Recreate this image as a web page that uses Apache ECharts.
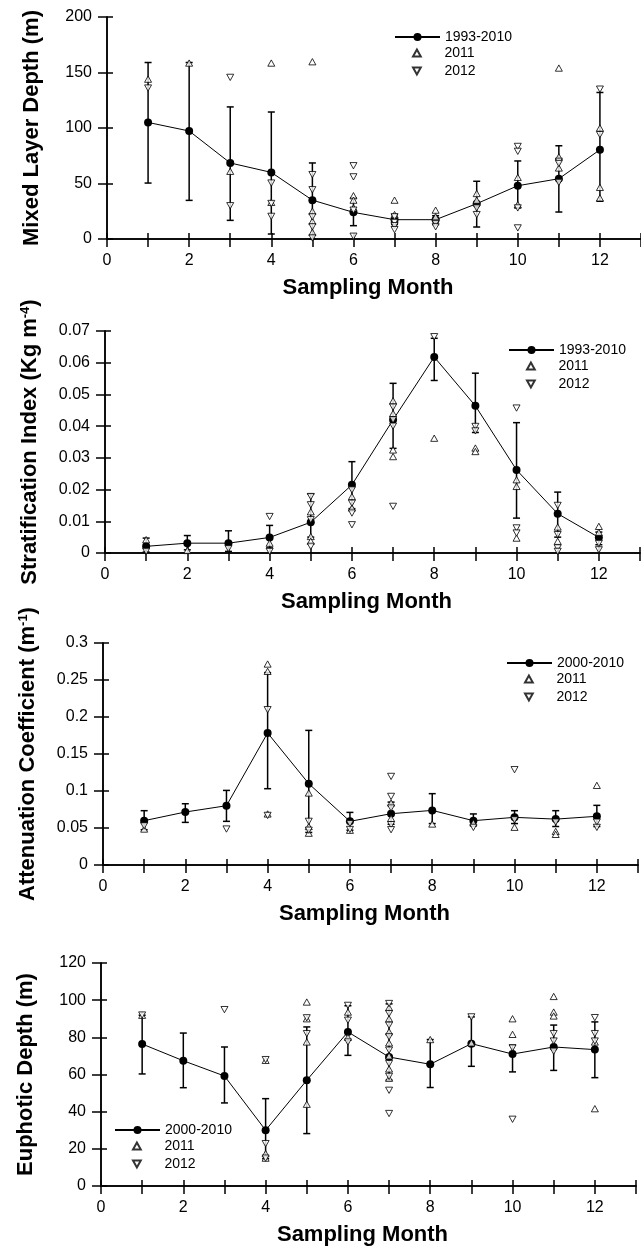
<!DOCTYPE html>
<html>
<head>
<meta charset="utf-8">
<script src="https://cdn.jsdelivr.net/npm/echarts/dist/echarts.min.js"></script>
<style>
html,body{margin:0;padding:0;background:#fff;}
#c{width:641px;height:1249px;}
</style>
</head>
<body>
<div id="c"></div>
<script>
// ---------- shared ----------
const months = [1,2,3,4,5,6,7,8,9,10,11,12];
const monthTickLabels = [0,2,4,6,8,10,12];
const monthMax = 13;

// ---------- Panel 1: Mixed Layer Depth ----------
const mldTicks = [0,50,100,150,200];
const mldMean = [105,97.3,68.5,60,35,24,17.4,17.4,31.8,48,54.3,80.4];
const mldLow  = [50.4,34.8,16.8,4.5,0,12,13,13,10.8,28,24.3,34];
const mldHigh = [159,159,119,114.4,68.5,37,22,21,52,70.3,84,132];
const mld2011 = [[1,144],[2,158.5],[3,61],[4,158.5],[4,33],[5,159.7],[5,25],[5,16],[5,6],[6,39],[6,35],[6,28],[7,35],[7,22],[7,17],[8,26],[8,20],[9,41],[9,35],[10,55.5],[10,31],[11,154],[11,74],[11,64],[12,100],[12,46.5],[12,37]];
const mld2012 = [[1,136],[3,145.6],[3,30],[4,50.4],[4,32],[4,20.4],[5,58],[5,44.4],[5,20],[5,11],[5,1],[6,66],[6,56],[6,26],[6,2.5],[7,20],[7,15],[7,12],[7,8.4],[8,14],[8,11],[9,28],[9,22],[10,83.4],[10,79],[10,28],[10,10],[11,70],[11,68],[11,51],[12,135],[12,94]];

// ---------- Panel 2: Stratification Index ----------
const siTicks = [0,0.01,0.02,0.03,0.04,0.05,0.06,0.07];
const siMean = [0.0021,0.0031,0.0031,0.0049,0.0097,0.0215,0.042,0.0618,0.0464,0.0262,0.0124,0.0049];
const siLow  = [0.0003,0.001,0.0005,0.0016,0.005,0.014,0.033,0.0544,0.038,0.011,0.005,0.0026];
const siHigh = [0.0047,0.0055,0.007,0.0087,0.0186,0.0288,0.0535,0.0677,0.0567,0.0411,0.0192,0.0066];
const si2011 = [[1,0.0042],[2,0.0008],[4,0.0031],[5,0.013],[5,0.0052],[5,0.0037],[6,0.0178],[6,0.0142],[7,0.048],[7,0.044],[7,0.0325],[7,0.0304],[8,0.0362],[9,0.0331],[9,0.032],[10,0.0231],[10,0.021],[10,0.0047],[11,0.0082],[11,0.0037],[12,0.0084],[12,0.0065]];
const si2012 = [[1,0.0005],[3,0.0014],[4,0.0115],[4,0.0005],[5,0.0178],[5,0.0152],[5,0.0105],[5,0.0021],[6,0.0199],[6,0.0157],[6,0.0126],[6,0.0089],[7,0.046],[7,0.042],[7,0.040],[7,0.0147],[8,0.0682],[9,0.0399],[9,0.0385],[10,0.0457],[10,0.0079],[10,0.0063],[11,0.015],[11,0.0058],[11,0.0016],[11,0.0005],[12,0.003],[12,0.001]];

// ---------- Panel 3: Attenuation Coefficient ----------
const acTicks = [0,0.05,0.1,0.15,0.2,0.25,0.3];
const acMean = [0.0599,0.0716,0.0801,0.1784,0.1099,0.059,0.0693,0.0738,0.0599,0.0644,0.062,0.0658];
const acLow  = [0.0477,0.0576,0.059,0.1031,0.044,0.047,0.055,0.056,0.053,0.056,0.052,0.052];
const acHigh = [0.0734,0.0828,0.1008,0.26,0.1819,0.0711,0.085,0.0964,0.069,0.0734,0.0734,0.0806];
const ac2011 = [[1,0.0486],[4,0.2716],[4,0.2617],[4,0.069],[5,0.0973],[5,0.052],[5,0.043],[6,0.047],[7,0.0838],[7,0.063],[8,0.0554],[9,0.057],[10,0.051],[11,0.0454],[11,0.0414],[12,0.1076]];
const ac2012 = [[1,0.053],[3,0.0486],[4,0.2099],[4,0.067],[5,0.059],[5,0.047],[6,0.056],[6,0.048],[7,0.1197],[7,0.0927],[7,0.077],[7,0.0545],[7,0.0477],[9,0.0508],[10,0.1288],[10,0.061],[11,0.058],[12,0.058],[12,0.0508]];

// ---------- Panel 4: Euphotic Depth ----------
const edTicks = [0,20,40,60,80,100,120];
const edMean = [76.4,67.4,59.2,30,56.9,82.9,69.4,65.5,76.6,71,74.8,73.4];
const edLow  = [60.3,52.9,44.7,14.7,28.2,70.3,57,53,64.4,61.4,62.2,58.3];
const edHigh = [91.9,82.3,74.8,47,85.6,97,98,78.8,91,75.8,86.6,88.3];
const ed2011 = [[1,91.9],[4,67.6],[4,17.4],[4,15],[5,99],[5,90],[5,77.5],[5,44],[6,93.6],[6,80],[7,96],[7,90],[7,83],[7,77],[7,70],[7,63],[7,58],[8,78.8],[9,77],[10,90],[10,81.6],[11,102],[11,93.6],[11,91.5],[12,77.5],[12,41.6]];
const ed2012 = [[1,92],[3,94.9],[4,68],[4,22.8],[4,15],[5,90.5],[5,82],[6,97.2],[6,89.2],[6,77.5],[7,98.2],[7,92.8],[7,86.5],[7,80.3],[7,73.1],[7,65.9],[7,59],[7,51.5],[7,39],[9,91],[10,74.3],[10,35.9],[11,82],[11,78],[11,72.5],[12,90.6],[12,82],[12,78]];

// ---------- build ----------
const FONT = "'Liberation Sans', Arial, sans-serif";
const UP = 'path://M5,0L10,9L0,9Z';
const DOWN = 'path://M0,0L10,0L5,9Z';

const panels = [
  {name:'{a|Mixed Layer Depth (m)}', ticks:mldTicks, mean:mldMean, low:mldLow, high:mldHigh, s11:mld2011, s12:mld2012, meanName:'1993-2010',
   grid:{left:107, top:17, width:534, height:222}, legend:{left:394, row1:35}},
  {name:'{a|Stratification Index (Kg m}{s|-4}{a|)}', ticks:siTicks, mean:siMean, low:siLow, high:siHigh, s11:si2011, s12:si2012, meanName:'1993-2010',
   grid:{left:105, top:331, width:535, height:222}, legend:{left:508, row1:348}},
  {name:'{a|Attenuation Coefficient (m}{s|-1}{a|)}', ticks:acTicks, mean:acMean, low:acLow, high:acHigh, s11:ac2011, s12:ac2012, meanName:'2000-2010',
   grid:{left:103, top:643, width:535, height:222}, legend:{left:506, row1:661}},
  {name:'{a|Euphotic Depth (m)}', ticks:edTicks, mean:edMean, low:edLow, high:edHigh, s11:ed2011, s12:ed2012, meanName:'2000-2010',
   grid:{left:101, top:963, width:535, height:223}, legend:{left:114, row1:1128}}
];

const grids = [], xAxes = [], yAxes = [], series = [], legends = [];
const axisLine = {show:true, lineStyle:{color:'#000', width:1.5}};

panels.forEach((p, i) => {
  grids.push(Object.assign({outerBoundsMode:'none', containLabel:false}, p.grid));
  const xBase = {gridIndex:i, type:'value', min:0, max:monthMax, interval:1, splitLine:{show:false}, axisLine:axisLine};
  xAxes.push(Object.assign({}, xBase, {
    position:'bottom',
    axisTick:{show:true, inside:false, length:8, lineStyle:{color:'#000', width:1.5}},
    axisLabel:{show:true, margin:14, fontSize:16, color:'#000', fontFamily:FONT,
      formatter: v => monthTickLabels.indexOf(Math.round(v)) >= 0 && Math.abs(v - Math.round(v)) < 1e-6 ? String(Math.round(v)) : ''},
    name:'Sampling Month', nameLocation:'middle', nameGap:38,
    nameTextStyle:{fontSize:22, fontWeight:'bold', fontFamily:FONT, color:'#000', padding:[0,12,0,0]}
  }));
  xAxes.push(Object.assign({}, xBase, {
    position:'top',
    axisTick:{show:true, inside:false, length:6, lineStyle:{color:'#000', width:1.5}},
    axisLabel:{show:false}
  }));
  const t = p.ticks;
  const yBase = {gridIndex:i, type:'value', min:t[0], max:t[t.length-1], interval:t[1]-t[0], splitLine:{show:false}, axisLine:axisLine};
  yAxes.push(Object.assign({}, yBase, {
    position:'left',
    axisTick:{show:true, inside:false, length:9, lineStyle:{color:'#000', width:1.5}},
    axisLabel:{show:true, margin:15, fontSize:16, color:'#000', fontFamily:FONT,
      formatter: v => String(+(+v).toFixed(4))},
    name:p.name, nameLocation:'middle', nameGap:64,
    nameTextStyle:{fontSize:22, fontWeight:'bold', fontFamily:FONT, color:'#000',
      rich:{a:{fontSize:22, fontWeight:'bold', fontFamily:FONT, color:'#000'},
            s:{fontSize:13, fontWeight:'bold', fontFamily:FONT, color:'#000', verticalAlign:'top'}}}
  }));
  yAxes.push(Object.assign({}, yBase, {
    position:'right',
    axisTick:{show:true, inside:false, length:6, lineStyle:{color:'#000', width:1.5}},
    axisLabel:{show:false}
  }));
  const xi = i*2, yi = i*2;
  // error bars
  series.push({
    type:'custom', name:'err'+i, xAxisIndex:xi, yAxisIndex:yi, z:2, silent:true,
    data: months.map((m,k) => [m, p.low[k], p.high[k]]),
    encode:{x:0, y:[1,2]},
    renderItem:(params, api) => {
      const x = api.value(0), lo = api.value(1), hi = api.value(2);
      const a = api.coord([x, lo]), b = api.coord([x, hi]);
      const w = 3.5, st = {stroke:'#000', lineWidth:1.5};
      return {type:'group', children:[
        {type:'line', shape:{x1:a[0], y1:a[1], x2:b[0], y2:b[1]}, style:st},
        {type:'line', shape:{x1:a[0]-w, y1:a[1], x2:a[0]+w, y2:a[1]}, style:st},
        {type:'line', shape:{x1:b[0]-w, y1:b[1], x2:b[0]+w, y2:b[1]}, style:st}
      ]};
    }
  });
  series.push({
    type:'line', name:p.meanName, xAxisIndex:xi, yAxisIndex:yi, z:3,
    data: months.map((m,k) => [m, p.mean[k]]),
    symbol:'circle', symbolSize:8, showSymbol:true,
    itemStyle:{color:'#000'}, lineStyle:{color:'#000', width:1}
  });
  series.push({
    type:'scatter', name:'2011', xAxisIndex:xi, yAxisIndex:yi, z:4,
    data:p.s11, symbol:UP, symbolSize:7, symbolKeepAspect:true,
    itemStyle:{color:'#fff', borderColor:'#000', borderWidth:1}
  });
  series.push({
    type:'scatter', name:'2012', xAxisIndex:xi, yAxisIndex:yi, z:4,
    data:p.s12, symbol:DOWN, symbolSize:7, symbolKeepAspect:true,
    itemStyle:{color:'#fff', borderColor:'#000', borderWidth:1}
  });
  const lt = {fontSize:14, color:'#000', fontFamily:FONT};
  legends.push({
    data:[p.meanName], orient:'vertical', left:p.legend.left, top:p.legend.row1-5,
    itemWidth:45, itemHeight:10, itemGap:8, padding:0, selectedMode:false, textStyle:lt
  });
  legends.push({
    data:['2011','2012'], orient:'vertical', left:p.legend.left+18, top:p.legend.row1+18-7,
    itemWidth:45, itemHeight:7, itemGap:4, padding:0, selectedMode:false, textStyle:lt
  });
});

const chart = echarts.init(document.getElementById('c'), null, {renderer:'canvas'});
chart.setOption({
  backgroundColor:'#fff',
  animation:false,
  grid:grids, xAxis:xAxes, yAxis:yAxes, series:series, legend:legends
});
</script>
</body>
</html>
